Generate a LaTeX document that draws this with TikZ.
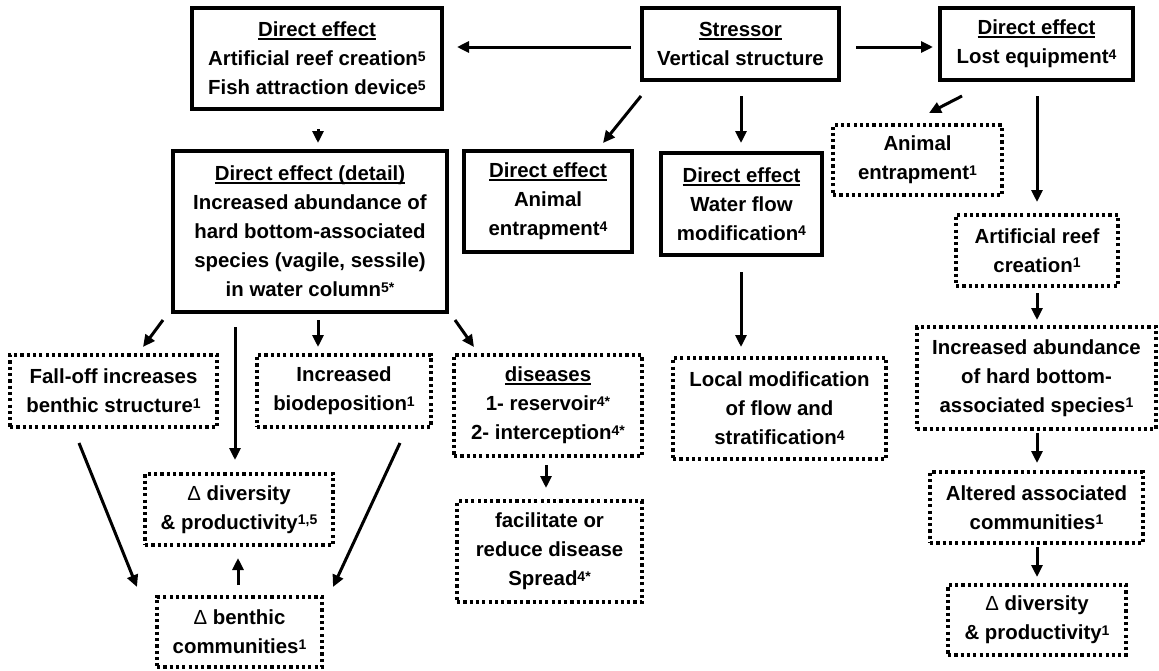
\documentclass[tikz,border=0pt]{standalone}
\usepackage{fontspec}
\setmainfont{Liberation Sans}
\usetikzlibrary{arrows.meta}
% small raised reference marks
\newcommand\spr[1]{\raisebox{4.5pt}{\fontsize{14}{14}\selectfont\bfseries #1}}
% heading underline
\newcommand\undl[1]{\setbox0\hbox{#1}\rlap{\rule[-3.4pt]{\wd0}{1.8pt}}\box0}
% thin delta sign
\newcommand\dlt{{\mdseries\char"0394}}
\newcommand\boxfont{\fontsize{20.4}{29}\selectfont\bfseries}
\tikzset{
  solidbox/.style={draw, line width=3.2pt, inner sep=0pt, align=center, font=\boxfont},
  dotbox/.style={draw, line width=3.2pt, dash pattern=on 3.2pt off 3.1pt, inner sep=0pt, align=center, font=\boxfont},
  sz/.style 2 args={minimum width=#1pt, minimum height=#2pt},
  arr/.style={line width=3pt, -{Triangle[length=12pt,width=11pt]}},
}
\begin{document}
\begin{tikzpicture}[x=1pt, y=-1pt]
\useasboundingbox (0,0) rectangle (1159,670);

% top row
\node[solidbox, sz={250}{101}] (A) at (317,58.5)
  {\undl{Direct effect}\\Artificial reef creation\spr{5}\\Fish attraction device\spr{5}};
\node[solidbox, sz={197}{72}] (stressor) at (740.5,44)
  {\undl{Stressor}\\Vertical structure};
\node[solidbox, sz={193}{72}] (lost) at (1036.5,44)
  {\undl{Direct effect}\\Lost equipment\spr{4}};

% second row
\node[solidbox, sz={274}{161}] (detail) at (310,231.5)
  {\undl{Direct effect (detail)}\\Increased abundance of\\hard bottom-associated\\species (vagile, sessile)\\in water column\spr{5*}};
\node[solidbox, sz={168}{101}] (animalD) at (548,201.5)
  {\undl{Direct effect}\\Animal\\entrapment\spr{4}};
\node[solidbox, sz={161}{102}] (water) at (741.5,204)
  {\undl{Direct effect}\\Water flow\\modification\spr{4}};
\node[dotbox, sz={169}{70}] (anim1) at (917.5,160)
  {Animal\\entrapment\spr{1}};
\node[dotbox, sz={162}{71}] (reef1) at (1037,250.5)
  {Artificial reef\\creation\spr{1}};

% third row
\node[dotbox, sz={207}{72}] (falloff) at (113.5,391)
  {Fall-off increases\\benthic structure\spr{1}};
\node[dotbox, sz={174}{72}] (biodep) at (344,391)
  {Increased\\biodeposition\spr{1}};
\node[dotbox, sz={188}{101}] (diseases) at (548,405.5)
  {\undl{diseases}\\1- reservoir\spr{4*}\\2- interception\spr{4*}};
\node[dotbox, sz={213}{101}] (local) at (779.5,408.5)
  {Local modification\\of flow and\\stratification\spr{4}};
\node[dotbox, sz={239}{102}] (abund) at (1036.5,378)
  {Increased abundance\\of hard bottom-\\associated species\spr{1}};

% lower rows
\node[dotbox, sz={188}{71}] (divL) at (239,509.5)
  {\dlt{} diversity\\\& productivity\spr{1,5}};
\node[dotbox, sz={185}{101}] (facil) at (549.5,551.5)
  {facilitate or\\reduce disease\\Spread\spr{4*}};
\node[dotbox, sz={213}{71}] (altered) at (1036.5,507.5)
  {Altered associated\\communities\spr{1}};
\node[dotbox, sz={165}{70}] (benthic) at (239.5,632)
  {\dlt{} benthic\\communities\spr{1}};
\node[dotbox, sz={178}{70}] (divR) at (1037,620)
  {\dlt{} diversity\\\& productivity\spr{1}};

% connectors
\draw[arr] ([shift={(-109.5,3)}]stressor.center) -- ([shift={(140,-11.5)}]A.center);
\draw[arr] ([shift={(115.5,3)}]stressor.center) -- ([shift={(-103.5,3)}]lost.center);
\draw[arr] ([shift={(1,70.5)}]A.center) -- ([shift={(8,-88.5)}]detail.center);
\draw[arr] ([shift={(-99.5,52)}]stressor.center) -- ([shift={(55,-58.5)}]animalD.center);
\draw[arr] ([shift={(0.5,52)}]stressor.center) -- ([shift={(-0.5,-61)}]water.center);
\draw[arr] ([shift={(-0.5,68)}]water.center) -- ([shift={(-38.5,-61.5)}]local.center);
\draw[arr] ([shift={(-74.5,52)}]lost.center) -- ([shift={(11.5,-47)}]anim1.center);
\draw[arr] ([shift={(0.5,52)}]lost.center) -- ([shift={(0,-48.5)}]reef1.center);
\draw[arr] ([shift={(0,42.5)}]reef1.center) -- ([shift={(0.5,-58)}]abund.center);
\draw[arr] ([shift={(0.5,55)}]abund.center) -- ([shift={(0.5,-44.5)}]altered.center);
\draw[arr] ([shift={(0.5,39.5)}]altered.center) -- ([shift={(0,-43)}]divR.center);
\draw[arr] ([shift={(-147,88.5)}]detail.center) -- ([shift={(29.5,-44)}]falloff.center);
\draw[arr] ([shift={(-75,95.5)}]detail.center) -- ([shift={(-4,-49.5)}]divL.center);
\draw[arr] ([shift={(8,88.5)}]detail.center) -- ([shift={(-26,-44)}]biodep.center);
\draw[arr] ([shift={(145,88.5)}]detail.center) -- ([shift={(-74,-58.5)}]diseases.center);
\draw[arr] ([shift={(-2,59.5)}]diseases.center) -- ([shift={(-3.5,-63.5)}]facil.center);
\draw[arr] ([shift={(-34.5,52)}]falloff.center) -- ([shift={(-102.5,-45)}]benthic.center);
\draw[arr] ([shift={(56,52)}]biodep.center) -- ([shift={(93.5,-45)}]benthic.center);
\draw[arr] ([shift={(-1.5,-47)}]benthic.center) -- ([shift={(-1,48.5)}]divL.center);
\end{tikzpicture}
\end{document}
